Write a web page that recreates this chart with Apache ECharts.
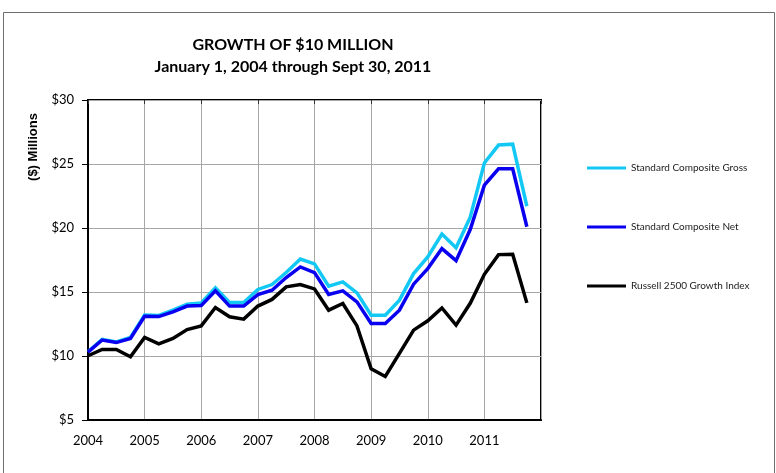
<!DOCTYPE html>
<html>
<head>
<meta charset="utf-8">
<script src="https://cdn.jsdelivr.net/npm/echarts@6/dist/echarts.min.js"></script>
<style>
  html, body { margin: 0; padding: 0; background: #fff; }
  #chart { width: 776px; height: 473px; }
</style>
</head>
<body>
<div id="chart"></div>
<script>
// Quarterly portfolio values in $ millions, starting Jan 1, 2004 and ending Sept 30, 2011
const startYear = 2004;
const yearTicks = [2004, 2005, 2006, 2007, 2008, 2009, 2010, 2011];

const grossValues = [
  10.33, 11.30, 11.10, 11.45, 13.20, 13.17, 13.58, 14.05,
  14.15, 15.32, 14.18, 14.18, 15.20, 15.58, 16.52, 17.58,
  17.20, 15.45, 15.79, 14.93, 13.19, 13.19, 14.36, 16.44,
  17.74, 19.53, 18.45, 20.85, 25.08, 26.48, 26.55, 21.70
];
const netValues = [
  10.30, 11.25, 11.05, 11.37, 13.10, 13.08, 13.45, 13.90,
  13.95, 15.09, 13.90, 13.90, 14.80, 15.14, 16.13, 16.96,
  16.52, 14.80, 15.09, 14.23, 12.54, 12.54, 13.58, 15.61,
  16.83, 18.39, 17.45, 19.88, 23.35, 24.63, 24.63, 20.10
];
const russellValues = [
  10.02, 10.51, 10.51, 9.94, 11.45, 10.95, 11.37, 12.07,
  12.35, 13.79, 13.06, 12.88, 13.90, 14.42, 15.40, 15.58,
  15.24, 13.58, 14.10, 12.35, 9.00, 8.40, 10.20, 12.02,
  12.75, 13.75, 12.41, 14.12, 16.38, 17.92, 17.95, 14.15
];

const seriesNames = [
  'Standard Composite Gross',
  'Standard Composite Net',
  'Russell 2500 Growth Index'
];
const seriesColors = ['#14c8f5', '#0a00f0', '#000000'];

// each quarter is placed at its fractional year on the time line
function toPoints(values) {
  return values.map((v, i) => [startYear + i / 4, v]);
}

const FONT = 'Lato, "Open Sans", sans-serif';
const chart = echarts.init(document.getElementById('chart'), null, { renderer: 'canvas' });

chart.setOption({
  animation: false,
  backgroundColor: '#ffffff',
  title: {
    text: 'GROWTH OF $10 MILLION\nJanuary 1, 2004 through Sept 30, 2011',
    left: 288,
    top: 29,
    textAlign: 'center',
    textStyle: {
      fontFamily: FONT,
      fontSize: 16,
      fontWeight: 'bold',
      color: '#000',
      lineHeight: 22
    }
  },
  graphic: [{
    type: 'rect',
    shape: { x: 3.5, y: 12.5, width: 771, height: 480 },
    style: { fill: 'none', stroke: '#6e6e6e', lineWidth: 1 },
    silent: true,
    z: -1
  }, {
    // vertical axis title
    type: 'text',
    x: 33,
    y: 147,
    rotation: Math.PI / 2,
    style: {
      text: '($) Millions',
      fontFamily: '"Liberation Sans", Arial, sans-serif',
      fontSize: 13,
      fontWeight: 'bold',
      fill: '#000',
      align: 'center',
      verticalAlign: 'middle'
    },
    silent: true
  }],
  legend: {
    orient: 'vertical',
    left: 582,
    top: 158,
    itemGap: 49,
    itemWidth: 39,
    itemHeight: 3,
    icon: 'rect',
    data: seriesNames,
    textStyle: { fontFamily: FONT, fontSize: 10, color: '#222' }
  },
  grid: {
    left: 88,
    top: 100,
    right: 235,
    bottom: 53,
    show: true,
    borderColor: '#000',
    borderWidth: 2,
    containLabel: false
  },
  xAxis: [{
    type: 'value',
    min: 2004,
    max: 2012,
    interval: 1,
    axisLine: { show: true, lineStyle: { color: '#000', width: 2 } },
    axisTick: { show: false },
    splitLine: { show: true, lineStyle: { color: '#a6a6a6', width: 1 } },
    axisLabel: {
      fontFamily: FONT,
      fontSize: 13,
      color: '#000',
      margin: 14,
      showMaxLabel: false,
      formatter: v => (yearTicks.includes(v) ? String(v) : '')
    }
  }, {
    type: 'value',
    position: 'top',
    min: 2004,
    max: 2012,
    interval: 1,
    axisLine: { show: false },
    axisTick: { show: true, inside: true, length: 4, lineStyle: { color: '#333', width: 1 } },
    axisLabel: { show: false },
    splitLine: { show: false }
  }],
  yAxis: {
    type: 'value',
    min: 5,
    max: 30,
    interval: 5,
    axisLine: { show: true, lineStyle: { color: '#000', width: 2 } },
    axisTick: { show: true, length: 6, lineStyle: { color: '#000', width: 1 } },
    splitLine: { show: true, lineStyle: { color: '#a6a6a6', width: 1 } },
    axisLabel: {
      fontFamily: FONT,
      fontSize: 13,
      color: '#000',
      margin: 14,
      formatter: v => '$' + v
    }
  },
  series: [
    { name: seriesNames[0], data: toPoints(grossValues) },
    { name: seriesNames[1], data: toPoints(netValues) },
    { name: seriesNames[2], data: toPoints(russellValues) }
  ].map((s, i) => ({
    type: 'line',
    name: s.name,
    data: s.data,
    showSymbol: false,
    symbol: 'none',
    color: seriesColors[i],
    lineStyle: { color: seriesColors[i], width: 3.5, join: 'miter' },
    z: 2 + i
  }))
});
</script>
</body>
</html>
